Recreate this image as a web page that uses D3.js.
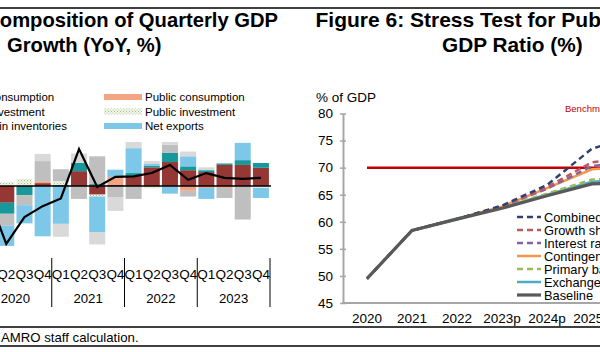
<!DOCTYPE html>
<html><head><meta charset="utf-8">
<script src="https://cdn.jsdelivr.net/npm/d3@7"></script>
<style>body{margin:0;background:#fff;overflow:hidden;} svg{display:block;}</style>
</head><body>
<svg id="c" width="600" height="352"></svg>
<script>
// ---------------- DATA ----------------
// Left chart: contributions to YoY GDP growth (pp), Q1 2020 .. Q4 2023
const yearLabels = ["2020", "2021", "2022", "2023"];
const quarterLabels = ["Q1", "Q2", "Q3", "Q4"];
const gdpGrowth      = [-2.1, -12.1, -6.5, -4.2, -2.6, 7.7, -0.2, 1.9, 2.0, 2.7, 4.4, 1.3, 2.7, 1.7, 1.5, 1.7];
const privCons       = [0, -3.5, -0.2, 0.6, 0, 3.1, -1.8, 0.2, 2.1, 3.9, 5.0, 3.3, 2.9, 4.4, 4.4, 3.8];
const privInv        = [0, -2.3, -1.7, 0, 0.2, 1.7, 0.4, 0, 0.6, 0.3, 1.9, 0.8, 0.4, 0.3, 1.0, 1.0];
const pubCons        = [0, 0, 0, 0.4, 0, 0, 0, 1.7, 0, 0, 0, -1.0, -0.4, -0.4, 0, 0];
const pubInv         = [0, 0.8, 1.5, 0, 0.8, 0, -0.4, 0, 0, -0.5, 0, 0, 0, 0, 0, -0.4];
const inventories    = [0, -2.5, -2.1, 4.2, 2.5, -2.7, 5.8, -2.3, -2.7, 0, 1.7, -1.2, 0, -2.1, -7.0, 0];
const netExports     = [0, -4.2, -3.8, -10.5, -7.9, 0, -7.5, 1.5, 5.2, 0.4, -1.6, 2.1, -2.3, 0, 3.6, -2.1];
const statDiscrep    = [0, 0, 0, 1.5, -2.7, 2.0, -2.5, -2.9, 1.3, 0.6, 0.6, 1.0, 0.6, 0, 0, 0];

// Right chart: public debt-to-GDP stress test (% of GDP)
const debtYears   = ["2020", "2021", "2022", "2023p", "2024p", "2025p", "2026p"];
const combined    = [49.5, 58.4, 60.5, 63.0, 66.8, 73.5, 76.0];
const growthShock = [49.5, 58.4, 60.5, 62.9, 66.4, 71.0, 72.0];
const interestShock = [49.5, 58.4, 60.5, 62.8, 66.1, 70.3, 71.0];
const contingent  = [49.5, 58.4, 60.5, 62.8, 66.2, 69.7, 70.2];
const primaryBal  = [49.5, 58.4, 60.5, 62.7, 65.2, 67.8, 68.2];
const exchangeRate = [49.5, 58.4, 60.6, 62.7, 65.0, 67.4, 67.8];
const baseline    = [49.5, 58.4, 60.5, 62.5, 64.8, 67.0, 67.3];
const benchmark   = 70;
const debtTicks   = [45, 50, 55, 60, 65, 70, 75, 80];

// ---------------- DRAW ----------------
const FONT = "'Liberation Sans', Arial, Helvetica, sans-serif";
const svg = d3.select("#c").style("font-family", FONT);

const defs = svg.append("defs");
const pat = defs.append("pattern").attr("id", "dots").attr("width", 3).attr("height", 3)
  .attr("patternUnits", "userSpaceOnUse");
pat.append("rect").attr("width", 3).attr("height", 3).attr("fill", "#f1f5ea");
pat.append("rect").attr("x", 0).attr("y", 0).attr("width", 1).attr("height", 1).attr("fill", "#9fbf86");
pat.append("rect").attr("x", 1.5).attr("y", 1.5).attr("width", 1).attr("height", 1).attr("fill", "#b9cfa5");

// frame rules
[8, 327, 346].forEach(y => svg.append("line").attr("x1", 0).attr("x2", 600)
  .attr("y1", y).attr("y2", y).attr("stroke", "#000").attr("stroke-width", 1.3));

svg.append("text").attr("x", 1).attr("y", 342).attr("font-size", 13.2).attr("fill", "#000")
  .text("AMRO staff calculation.");

// ===== Left chart =====
const L = svg.append("g");
L.append("text").attr("x", 278).attr("y", 27).attr("text-anchor", "end")
  .attr("font-size", 20.2).attr("font-weight", "bold").text("Composition of Quarterly GDP");
L.append("text").attr("x", 7).attr("y", 52)
  .attr("font-size", 20.2).attr("font-weight", "bold").text("Growth (YoY, %)");

const seriesDefs = [
  {key: "Private consumption", values: privCons, fill: "#953735"},
  {key: "Private investment", values: privInv, fill: "#17989a"},
  {key: "Public consumption", values: pubCons, fill: "#f2a582"},
  {key: "Public investment", values: pubInv, fill: "url(#dots)"},
  {key: "Changes in inventories", values: inventories, fill: "#bfbfbf"},
  {key: "Net exports", values: netExports, fill: "#7dc7e8"},
  {key: "Statistical discrepancy", values: statDiscrep, fill: "#d9d9d9"}
];

const qKeys = [];
yearLabels.forEach(y => quarterLabels.forEach(q => qKeys.push(y + "-" + q)));
const rows = qKeys.map((k, i) => {
  const o = {k};
  seriesDefs.forEach(s => o[s.key] = s.values[i]);
  return o;
});

const xL = d3.scaleBand().domain(qKeys).range([-21, 270]).paddingInner(0.12).paddingOuter(0.06);
const pxPer = 4.79, zeroY = 186;
const yL = d3.scaleLinear().domain([-14, 12]).range([zeroY + 14 * pxPer, zeroY - 12 * pxPer]);

const stacked = d3.stack().keys(seriesDefs.map(s => s.key)).offset(d3.stackOffsetDiverging)(rows);
stacked.forEach((layer, li) => {
  L.append("g").attr("fill", seriesDefs[li].fill).selectAll("rect").data(layer).join("rect")
    .attr("x", d => xL(d.data.k))
    .attr("width", xL.bandwidth())
    .attr("y", d => yL(Math.max(d[0], d[1])))
    .attr("height", d => Math.abs(yL(d[0]) - yL(d[1])));
});

L.append("line").attr("x1", 0).attr("x2", 271).attr("y1", yL(0)).attr("y2", yL(0))
  .attr("stroke", "#000").attr("stroke-width", 1.5);

const gdpLine = d3.line().x((d, i) => xL(qKeys[i]) + xL.bandwidth() / 2).y(d => yL(d));
L.append("path").attr("d", gdpLine(gdpGrowth)).attr("fill", "none")
  .attr("stroke", "#000").attr("stroke-width", 2.2).attr("stroke-linejoin", "miter");

// x axis labels
qKeys.forEach((k, i) => {
  L.append("text").attr("x", xL(k) + xL.bandwidth() / 2).attr("y", 278.5)
    .attr("text-anchor", "middle").attr("font-size", 13.5).text(quarterLabels[i % 4]);
});
const step = xL.step(), x0 = xL.range()[0];
yearLabels.forEach((y, yi) => {
  L.append("text").attr("x", x0 + (yi * 4 + 2) * step).attr("y", 303)
    .attr("text-anchor", "middle").attr("font-size", 13.2).text(y);
  const bx = x0 + (yi + 1) * 4 * step;
  L.append("line").attr("x1", bx).attr("x2", bx).attr("y1", 258).attr("y2", 307)
    .attr("stroke", "#000").attr("stroke-width", 1);
});

// legend
const legLeft = [seriesDefs[0], seriesDefs[1], seriesDefs[4]];
const legRight = [seriesDefs[2], seriesDefs[3], seriesDefs[5]];
const legRowY = [97, 111.5, 126];
legLeft.forEach((s, i) => {
  L.append("rect").attr("x", -92).attr("y", legRowY[i] - 3).attr("width", 38).attr("height", 6).attr("fill", s.fill);
  L.append("text").attr("x", -50).attr("y", legRowY[i] + 4).attr("font-size", 11.5).text(s.key);
});
legRight.forEach((s, i) => {
  L.append("rect").attr("x", 104).attr("y", legRowY[i] - 3).attr("width", 38).attr("height", 6).attr("fill", s.fill);
  L.append("text").attr("x", 145).attr("y", legRowY[i] + 4).attr("font-size", 11.5).text(s.key);
});

// ===== Right chart =====
const R = svg.append("g");
R.append("text").attr("x", 315.5).attr("y", 27).attr("font-size", 21).attr("font-weight", "bold")
  .text("Figure 6: Stress Test for Public Debt-to-");
R.append("text").attr("x", 442).attr("y", 52).attr("font-size", 20.8).attr("font-weight", "bold")
  .text("GDP Ratio (%)");
R.append("text").attr("x", 316).attr("y", 102).attr("font-size", 13.5).text("% of GDP");

const xR = d3.scalePoint().domain(debtYears).range([367, 367 + 45 * (debtYears.length - 1)]);
const yR = d3.scaleLinear().domain([45, 80]).range([303, 113.5]);

const yAxis = d3.axisLeft(yR).tickValues(debtTicks).tickSize(4).tickSizeOuter(0).tickPadding(6);
const ga = R.append("g").attr("transform", "translate(343,0)").call(yAxis);
ga.select(".domain").attr("stroke", "#a6a6a6").attr("stroke-width", 2);
ga.selectAll(".tick line").attr("stroke", "#a6a6a6").attr("stroke-width", 1.5).attr("x2", 3).attr("x1", -3);
ga.selectAll(".tick text").attr("font-size", 13.5).attr("font-family", FONT).attr("fill", "#000").attr("x", -10);

R.append("line").attr("x1", 342).attr("x2", 600).attr("y1", 303).attr("y2", 303)
  .attr("stroke", "#a6a6a6").attr("stroke-width", 2);
debtYears.forEach(y => {
  R.append("text").attr("x", xR(y)).attr("y", 323).attr("text-anchor", "middle")
    .attr("font-size", 13.5).text(y);
});

// benchmark
R.append("line").attr("x1", xR("2020")).attr("x2", 600).attr("y1", yR(benchmark)).attr("y2", yR(benchmark))
  .attr("stroke", "#c00000").attr("stroke-width", 2.5);
R.append("text").attr("x", 565).attr("y", 111.5).attr("font-size", 9.5).attr("fill", "#c00000").text("Benchmark");

const scen = [
  {name: "Combined shock", values: combined, color: "#2f4170", dash: "6,4", w: 2.5},
  {name: "Growth shock", values: growthShock, color: "#c0595e", dash: "6,4", w: 2.5},
  {name: "Interest rate shock", values: interestShock, color: "#7f65a6", dash: "6,4", w: 2.5},
  {name: "Contingent liabilities shock", values: contingent, color: "#f79646", dash: null, w: 2.5},
  {name: "Primary balance shock", values: primaryBal, color: "#9bbb59", dash: "6,4", w: 2.5},
  {name: "Exchange rate shock", values: exchangeRate, color: "#4bacc6", dash: null, w: 2.5},
  {name: "Baseline", values: baseline, color: "#595959", dash: null, w: 3.2}
];
const lineR = d3.line().x((d, i) => xR(debtYears[i])).y(d => yR(d));
// draw so that baseline ends on top
const drawOrder = ["Exchange rate shock", "Primary balance shock", "Contingent liabilities shock",
  "Interest rate shock", "Growth shock", "Combined shock", "Baseline"];
drawOrder.forEach(n => {
  const s = scen.find(d => d.name === n);
  R.append("path").attr("d", lineR(s.values)).attr("fill", "none").attr("stroke", s.color)
    .attr("stroke-width", s.w).attr("stroke-dasharray", s.dash);
});

// legend
scen.forEach((s, i) => {
  const y = 217 + i * 13;
  R.append("line").attr("x1", 517).attr("x2", 541).attr("y1", y).attr("y2", y)
    .attr("stroke", s.color).attr("stroke-width", s.w).attr("stroke-dasharray", s.dash);
  R.append("text").attr("x", 544).attr("y", y + 4.6).attr("font-size", 12.8).text(s.name);
});
</script>
</body></html>
